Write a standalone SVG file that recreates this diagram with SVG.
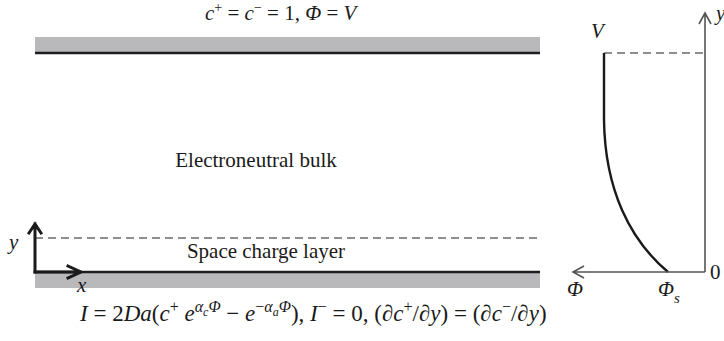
<svg xmlns="http://www.w3.org/2000/svg" width="724" height="341" viewBox="0 0 724 341">
<style>
text{font-family:"Liberation Serif","Times New Roman",serif;fill:#1a1a1a}
.t{font-size:21px}
.eq{font-size:23px}
.i{font-style:italic}
.plate{fill:#b9b9bc}
.edge{stroke:#1e1e1e;stroke-width:2.3;fill:none}
.dash{stroke:#6a6a6a;stroke-width:1.6;stroke-dasharray:8 5;fill:none}
.ax{stroke:#1a1a1a;stroke-width:3;fill:none;stroke-linecap:square}
.ax2{stroke:#555;stroke-width:1.6;fill:none}
.curve{stroke:#1a1a1a;stroke-width:2.4;fill:none}
</style>
<rect width="724" height="341" fill="#fff"/>

<g id="top-label">
<text class="t" x="205" y="20"><tspan class="i">c</tspan><tspan dy="-8" font-size="14">+</tspan><tspan dy="8"> = </tspan><tspan class="i">c</tspan><tspan dy="-8" font-size="14">−</tspan><tspan dy="8"> = 1, </tspan><tspan class="i">Φ</tspan> = <tspan class="i">V</tspan></text>
</g>

<g id="top-plate">
<rect class="plate" x="35" y="37" width="505" height="15"/>
<line class="edge" x1="35" y1="53" x2="540" y2="53"/>
</g>

<g id="bulk">
<text class="t" x="256" y="167" text-anchor="middle">Electroneutral bulk</text>
</g>

<g id="space-charge-layer">
<line class="dash" x1="35" y1="238" x2="540" y2="238"/>
<text class="t" x="266" y="258" text-anchor="middle">Space charge layer</text>
</g>

<g id="bottom-plate">
<rect class="plate" x="35" y="273" width="505" height="15"/>
<line class="edge" x1="35" y1="272" x2="540" y2="272"/>
</g>

<g id="bottom-label">
<text class="eq" x="80" y="321"><tspan class="i">I</tspan> = 2<tspan class="i">Da</tspan>(<tspan class="i">c</tspan><tspan dy="-9" font-size="16">+</tspan><tspan dy="9"> </tspan><tspan class="i">e</tspan><tspan dy="-9" font-size="16" class="i">α</tspan><tspan dy="4" font-size="12" class="i">c</tspan><tspan dy="-4" font-size="16" class="i">Φ</tspan><tspan dy="9"> − </tspan><tspan class="i">e</tspan><tspan dy="-9" font-size="16">−</tspan><tspan font-size="16" class="i">α</tspan><tspan dy="4" font-size="12" class="i">a</tspan><tspan dy="-4" font-size="16" class="i">Φ</tspan><tspan dy="9">), </tspan><tspan class="i">I</tspan><tspan dy="-9" font-size="16">−</tspan><tspan dy="9"> = 0, (∂</tspan><tspan class="i">c</tspan><tspan dy="-9" font-size="16">+</tspan><tspan dy="9">/∂</tspan><tspan class="i">y</tspan>) = (∂<tspan class="i">c</tspan><tspan dy="-9" font-size="16">−</tspan><tspan dy="9">/∂</tspan><tspan class="i">y</tspan>)</text>
</g>

<g id="profile-graph">
<line class="dash" x1="604" y1="53" x2="705" y2="53"/>
<path class="curve" d="M604,53 L604,120 C605,190 630,240 668,272"/>
<text class="t i" x="591" y="38">V</text>
<text class="t i" x="716" y="20">y</text>
<text class="t" x="710" y="279">0</text>
<text class="t i" x="567" y="296">Φ</text>
<text class="t i" x="658" y="296">Φ<tspan dy="7" font-size="15">s</tspan></text>
</g>

<g id="connectors">
<path class="ax" d="M35,272 L35,224 M29,233 L35,224 L41,233"/>
<path class="ax" d="M35,272 L80,272 M68,266 L81,272 L68,278"/>
<path class="ax2" d="M705,272 L705,14 M699,24 L705,13 L711,24"/>
<path class="ax2" d="M705,272 L573,272 M584,266 L573,272 L584,278"/>
<text class="t i" x="9" y="249">y</text>
<text class="t i" x="77" y="292">x</text>
</g>
</svg>
